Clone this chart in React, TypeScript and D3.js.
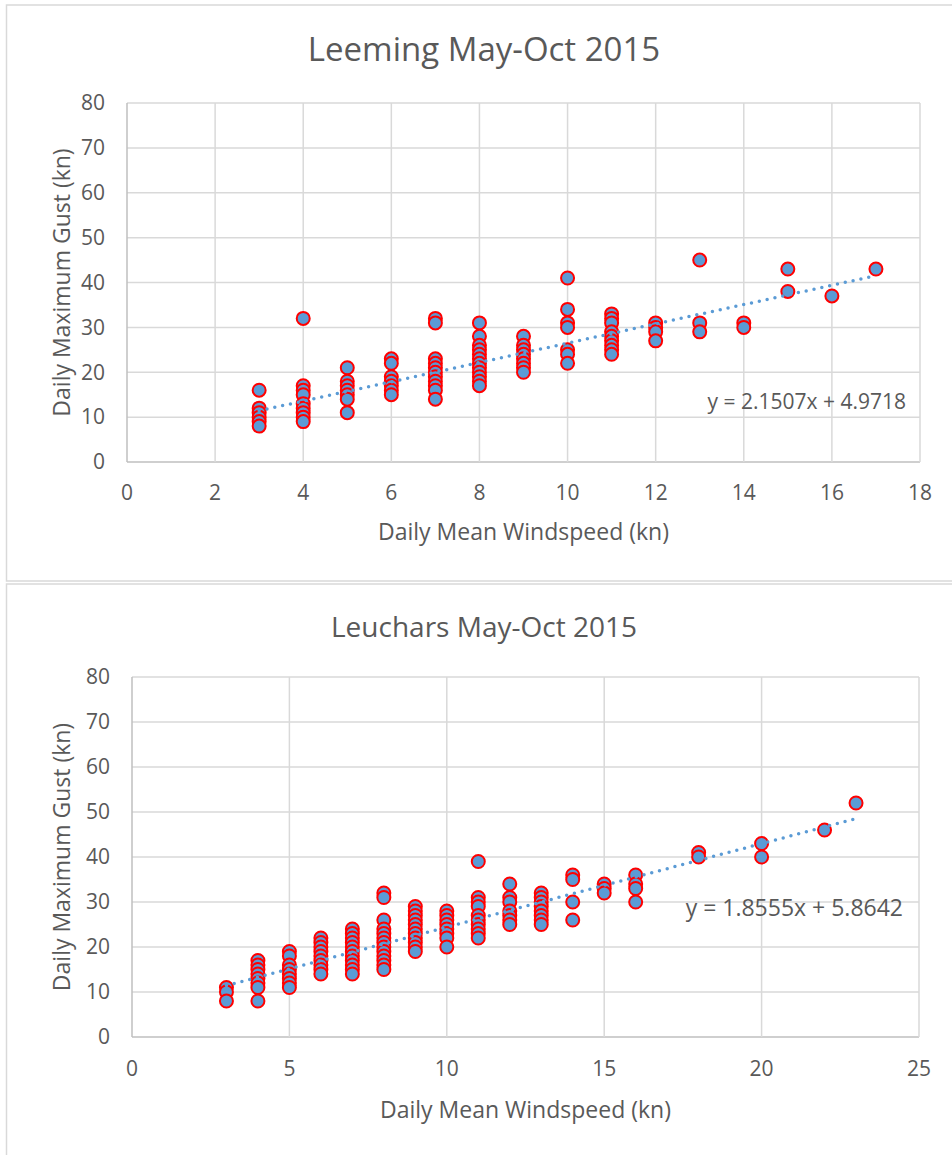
import React from "react";
import * as d3 from "d3";

// ---------- Data ----------
// Leeming: daily mean windspeed (kn) -> list of daily max gusts (kn)
const leemingWind = [3, 4, 5, 6, 7, 8, 9, 10, 11, 12, 13, 14, 15, 16, 17];
const leemingGusts = [
  [16, 12, 11, 10, 9, 8],
  [32, 17, 16, 15, 13, 12, 11, 10, 9],
  [21, 18, 17, 16, 15, 14, 11],
  [23, 22, 19, 18, 17, 16, 15],
  [32, 31, 23, 22, 21, 20, 19, 18, 17, 16, 14],
  [31, 28, 26, 25, 24, 23, 22, 21, 20, 19, 18, 17],
  [28, 26, 25, 24, 23, 22, 21, 20],
  [41, 34, 31, 30, 25, 24, 22],
  [33, 32, 31, 29, 28, 27, 26, 25, 24],
  [31, 30, 29, 27],
  [45, 31, 29],
  [31, 30],
  [43, 38],
  [37],
  [43],
];
const leemingFit = { slope: 2.1507, intercept: 4.9718 };

// Leuchars
const leucharsWind = [3, 4, 5, 6, 7, 8, 9, 10, 11, 12, 13, 14, 15, 16, 18, 20, 22, 23];
const leucharsGusts = [
  [11, 10, 8],
  [17, 16, 15, 14, 13, 12, 11, 8],
  [19, 18, 16, 15, 14, 13, 12, 11],
  [22, 21, 20, 19, 18, 17, 16, 15, 14],
  [24, 23, 22, 21, 20, 19, 18, 17, 16, 15, 14],
  [32, 31, 26, 24, 23, 22, 21, 20, 19, 18, 17, 16, 15],
  [29, 28, 27, 26, 25, 24, 23, 22, 21, 20, 19],
  [28, 27, 26, 25, 24, 23, 22, 20],
  [39, 31, 30, 29, 27, 26, 25, 24, 23, 22],
  [34, 31, 30, 28, 27, 26, 25],
  [32, 31, 30, 29, 28, 27, 26, 25],
  [36, 35, 30, 26],
  [34, 33, 32],
  [36, 34, 33, 30],
  [41, 40],
  [43, 40],
  [46],
  [52],
];
const leucharsFit = { slope: 1.8555, intercept: 5.8642 };

const yTicks = [0, 10, 20, 30, 40, 50, 60, 70, 80];
const leemingXTicks = [0, 2, 4, 6, 8, 10, 12, 14, 16, 18];
const leucharsXTicks = [0, 5, 10, 15, 20, 25];

const FONT = "'Open Sans', 'Noto Sans', sans-serif";
const TEXT = "#595959";
const GRID = "#d9d9d9";
const BLUE = "#5b9bd5";

type ChartProps = {
  title: string;
  titleSize: number;
  wind: number[];
  gusts: number[][];
  fit: { slope: number; intercept: number };
  xTicks: number[];
  xMax: number;
  plot: { left: number; right: number; top: number; bottom: number };
  titleY: number;
  xLabelY: number;
  xTitleY: number;
  eq: { x: number; y: number; size: number };
};

function Chart(p: ChartProps) {
  const x = d3.scaleLinear().domain([0, p.xMax]).range([p.plot.left, p.plot.right]);
  const y = d3.scaleLinear().domain([0, 80]).range([p.plot.bottom, p.plot.top]);
  const pts: [number, number][] = [];
  p.wind.forEach((w, i) => p.gusts[i].forEach((g) => pts.push([w, g])));
  const xMin = d3.min(p.wind)!;
  const xMaxD = d3.max(p.wind)!;
  const line = d3
    .line<number>()
    .x((d) => x(d))
    .y((d) => y(p.fit.slope * d + p.fit.intercept));
  const cx = (p.plot.left + p.plot.right) / 2;
  const cy = (p.plot.top + p.plot.bottom) / 2;
  const eqText = `y = ${p.fit.slope.toFixed(4)}x + ${p.fit.intercept.toFixed(4)}`;
  return (
    <g fontFamily={FONT}>
      <text x={484} y={p.titleY} textAnchor="middle" fontSize={p.titleSize} fill={TEXT}>
        {p.title}
      </text>
      {yTicks.map((t) => (
        <line key={"gy" + t} x1={p.plot.left} x2={p.plot.right} y1={y(t)} y2={y(t)} stroke={t === 0 ? "#bfbfbf" : GRID} strokeWidth={1.5} />
      ))}
      {p.xTicks.map((t) => (
        <line key={"gx" + t} x1={x(t)} x2={x(t)} y1={p.plot.top} y2={p.plot.bottom} stroke={t === 0 ? "#bfbfbf" : GRID} strokeWidth={1.5} />
      ))}
      {yTicks.map((t) => (
        <text key={"ly" + t} x={p.plot.left - 22} y={y(t)} dy="0.35em" textAnchor="end" fontSize={21} fill={TEXT}>
          {t}
        </text>
      ))}
      {p.xTicks.map((t) => (
        <text key={"lx" + t} x={x(t)} y={p.xLabelY} dy="0.35em" textAnchor="middle" fontSize={21} fill={TEXT}>
          {t}
        </text>
      ))}
      <text x={cx} y={p.xTitleY} dy="0.35em" textAnchor="middle" fontSize={23} fill={TEXT}>
        Daily Mean Windspeed (kn)
      </text>
      <text
        transform={`translate(62,${cy}) rotate(-90)`}
        dy="0.35em"
        textAnchor="middle"
        fontSize={23}
        fill={TEXT}
      >
        Daily Maximum Gust (kn)
      </text>
      {pts.map(([w, g], i) => (
        <circle key={i} cx={x(w)} cy={y(g)} r={6.5} fill={BLUE} stroke="#ff0000" strokeWidth={2} />
      ))}
      <path
        d={line([xMin, xMaxD]) || ""}
        fill="none"
        stroke={BLUE}
        strokeWidth={3.5}
        strokeLinecap="round"
        strokeDasharray="0 8"
      />
      <text x={p.eq.x} y={p.eq.y} dy="0.35em" textAnchor="end" fontSize={p.eq.size} fill={TEXT}>
        {eqText}
      </text>
    </g>
  );
}

export default function App() {
  return (
    <svg
      width={952}
      height={1155}
      style={{ position: "absolute", left: 0, top: 0, background: "#fff" }}
    >
      <rect x={0} y={0} width={952} height={1155} fill="#fff" />
      <rect x={6.5} y={5} width={960} height={576} fill="#fff" stroke={GRID} strokeWidth={1.5} />
      <rect x={6.5} y={584} width={960} height={600} fill="#fff" stroke={GRID} strokeWidth={1.5} />
      <Chart
        title="Leeming May-Oct 2015"
        titleSize={33}
        wind={leemingWind}
        gusts={leemingGusts}
        fit={leemingFit}
        xTicks={leemingXTicks}
        xMax={18}
        plot={{ left: 127, right: 920, top: 103, bottom: 462 }}
        titleY={61}
        xLabelY={493}
        xTitleY={532}
        eq={{ x: 906, y: 402, size: 21 }}
      />
      <Chart
        title="Leuchars May-Oct 2015"
        titleSize={28}
        wind={leucharsWind}
        gusts={leucharsGusts}
        fit={leucharsFit}
        xTicks={leucharsXTicks}
        xMax={25}
        plot={{ left: 132, right: 919, top: 677, bottom: 1037 }}
        titleY={637}
        xLabelY={1069}
        xTitleY={1110}
        eq={{ x: 903, y: 908, size: 23 }}
      />
    </svg>
  );
}
